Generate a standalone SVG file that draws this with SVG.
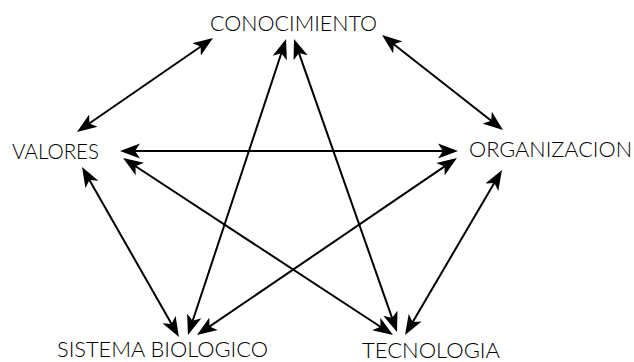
<svg xmlns="http://www.w3.org/2000/svg" width="634" height="362" viewBox="0 0 634 362">
<style>
.lbl{font-family:"Lato","Liberation Sans",sans-serif;font-size:21px;font-weight:300;fill:#000}
.c line{stroke:#000;stroke-width:2;marker-start:url(#ah);marker-end:url(#ah)}
</style>
<defs>
<marker id="ah" markerUnits="userSpaceOnUse" viewBox="0 0 20 16" markerWidth="20" markerHeight="16" refX="10" refY="8" orient="auto-start-reverse">
<path d="M20,8 L0,0.5 L5,8 L0,15.5 Z" fill="#000"/>
</marker>
</defs>
<rect width="634" height="362" fill="#fff"/>
<g id="connectors" class="c">
<line x1="204.8" y1="43.7" x2="85.2" y2="126.3"/>
<line x1="389.9" y1="41.2" x2="495.1" y2="123.8"/>
<line x1="130" y1="151" x2="448" y2="151"/>
<line x1="131.4" y1="163.5" x2="384.6" y2="329.5"/>
<line x1="87" y1="175.7" x2="174" y2="328.3"/>
<line x1="282.9" y1="48.5" x2="191.1" y2="325.5"/>
<line x1="297.3" y1="48.4" x2="393.7" y2="322.6"/>
<line x1="448.7" y1="163.6" x2="205.3" y2="329.4"/>
<line x1="496.9" y1="178.6" x2="410.1" y2="326.4"/>
</g>
<g id="conocimiento"><text class="lbl" x="210" y="31" textLength="167" lengthAdjust="spacingAndGlyphs">CONOCIMIENTO</text></g>
<g id="valores"><text class="lbl" x="12" y="159" textLength="87" lengthAdjust="spacingAndGlyphs">VALORES</text></g>
<g id="organizacion"><text class="lbl" x="469" y="157" textLength="163" lengthAdjust="spacingAndGlyphs">ORGANIZACION</text></g>
<g id="sistema"><text class="lbl" x="57" y="357" textLength="211" lengthAdjust="spacingAndGlyphs">SISTEMA BIOLOGICO</text></g>
<g id="tecnologia"><text class="lbl" x="362" y="358" textLength="138" lengthAdjust="spacingAndGlyphs">TECNOLOGIA</text></g>
</svg>
